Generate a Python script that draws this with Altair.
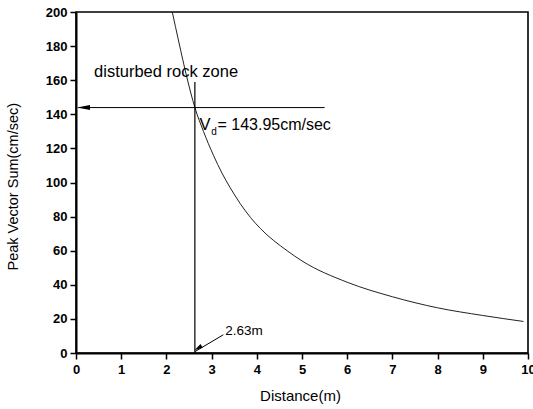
import altair as alt
import pandas as pd

# Curve
dist = [2.13, 2.27, 2.45, 2.63, 2.82, 3.04, 3.23, 3.41, 3.86, 4.08, 4.67, 5.0, 6.0, 7.0, 8.0, 9.0, 9.9]
pvs = [200, 183, 162, 143.95, 130, 116, 105.5, 97, 79.5, 73, 60, 54, 41.5, 33, 26.5, 22, 18.5]

x_ticks = list(range(0, 11))
y_ticks = list(range(0, 201, 20))

vd_value = 143.95
d_zone = 2.63

# annotation positions (data units)
hline_x = [0.05, 5.5]
vline_y = [0, 159]
arrow2_tail = [3.26, 10.7]
arrow2_tip = [2.63, 0.8]
head1 = [0.166, vd_value]
head2 = [2.70, 2.9]

labels_txt = ["disturbed rock zone", "V", "d", "= 143.95cm/sec", "2.63m"]
labels_x = [0.40, 2.73, 2.99, 3.13, 3.30]
labels_y = [165, 134, 129.5, 134, 12.7]
labels_size = [16.5, 16.5, 10, 16, 13.5]

FONT = "Liberation Sans"
W, H = 452, 341

xs = alt.Scale(domain=[0, 10], nice=False, zero=False)
ys = alt.Scale(domain=[0, 200], nice=False, zero=False)

xaxis = alt.Axis(values=x_ticks, title="Distance(m)", grid=False, domainColor="black",
                 domainWidth=2, tickColor="black", tickWidth=1.5, tickSize=6,
                 labelFont=FONT, labelFontSize=13, labelFontWeight="bold", labelColor="black",
                 labelPadding=4, labelFlush=False, labelOverlap=False,
                 titleFont=FONT, titleFontSize=15, titleFontWeight="normal", titleColor="black",
                 titleY=42, titleBaseline="middle", titleX=224)
yaxis = alt.Axis(values=y_ticks, title="Peak Vector Sum(cm/sec)", grid=False, domainColor="black",
                 domainWidth=2, tickColor="black", tickWidth=1.5, tickSize=6,
                 labelFont=FONT, labelFontSize=13, labelFontWeight="bold", labelColor="black",
                 labelPadding=3, labelFlush=False, labelOverlap=False,
                 titleFont=FONT, titleFontSize=14.5, titleFontWeight="normal", titleColor="black",
                 titleX=-63, titleY=258, titleAngle=270, titleAlign="left", titleBaseline="middle")


def X(f):
    return alt.X(f, scale=xs, axis=xaxis, title="Distance(m)")


def Y(f):
    return alt.Y(f, scale=ys, axis=yaxis, title="Peak Vector Sum(cm/sec)")


curve_df = pd.DataFrame({"d": dist, "v": pvs})
curve = alt.Chart(curve_df).mark_line(color="#222222", strokeWidth=1, interpolate="monotone", clip=True).encode(
    x=X("d:Q"), y=Y("v:Q"))

hline = alt.Chart(pd.DataFrame({"x": [hline_x[0]], "x2": [hline_x[1]], "y": [vd_value]})).mark_rule(
    color="black", strokeWidth=1).encode(x=X("x:Q"), x2="x2:Q", y=Y("y:Q"))

vline = alt.Chart(pd.DataFrame({"x": [d_zone], "y": [vline_y[0]], "y2": [vline_y[1]]})).mark_rule(
    color="black", strokeWidth=1.2).encode(x=X("x:Q"), y=Y("y:Q"), y2="y2:Q")

arrow_line = alt.Chart(pd.DataFrame({"x": [arrow2_tail[0]], "x2": [arrow2_tip[0]],
                                     "y": [arrow2_tail[1]], "y2": [arrow2_tip[1]]})).mark_rule(
    color="black", strokeWidth=1).encode(x=X("x:Q"), x2="x2:Q", y=Y("y:Q"), y2="y2:Q")

head_path = "M-1,0L1,-0.38L1,0.38Z"
h1 = alt.Chart(pd.DataFrame({"x": [head1[0]], "y": [head1[1]]})).mark_point(
    shape=head_path, filled=True, color="black", size=169, opacity=1).encode(x=X("x:Q"), y=Y("y:Q"))
h2 = alt.Chart(pd.DataFrame({"x": [head2[0]], "y": [head2[1]]})).mark_point(
    shape="M-1,0L1,-0.5L1,0.5Z", filled=True, color="black", size=70, opacity=1, angle=329).encode(
    x=X("x:Q"), y=Y("y:Q"))

txt_df = pd.DataFrame({"t": labels_txt, "x": labels_x, "y": labels_y, "s": labels_size})
texts = alt.Chart(txt_df).mark_text(font=FONT, color="black", align="left", baseline="middle").encode(
    x=X("x:Q"), y=Y("y:Q"), text="t:N",
    size=alt.Size("s:Q", scale=None, legend=None))

chart = alt.layer(curve, hline, vline, arrow_line, h1, h2, texts).properties(
    width=W, height=H,
    autosize=alt.AutoSizeParams(type="none"),
    padding={"left": 76, "top": 12, "right": 5, "bottom": 56},
    background="white",
).configure_view(stroke="black", strokeWidth=1.6).configure_axis(labelOverlap=False)

chart.save("out.html", embed_options={"renderer": "svg", "actions": False})
